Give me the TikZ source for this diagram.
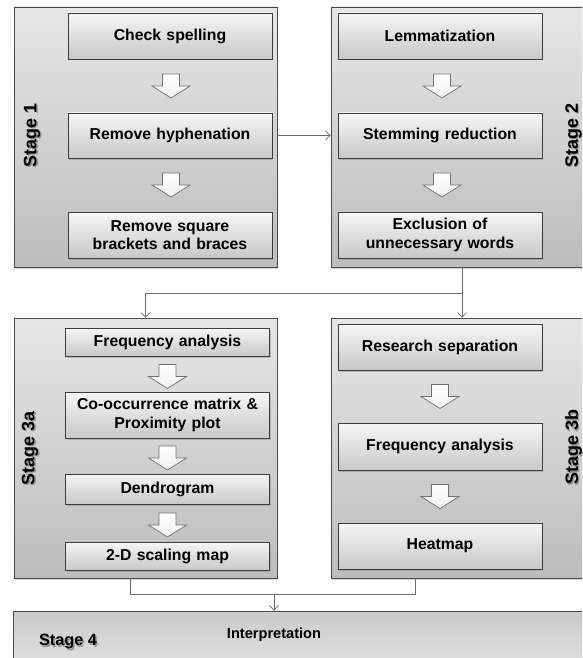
\documentclass[tikz,border=0pt]{standalone}
\usepackage{fontspec}
\setmainfont{Liberation Sans}
\usetikzlibrary{shadows,arrows.meta,calc}

\definecolor{frameedge}{HTML}{4A4A4A}
\definecolor{stagetop}{HTML}{E6E6E6}
\definecolor{stagebot}{HTML}{BDBDBD}
\definecolor{steptop}{HTML}{F6F6F6}
\definecolor{stepbot}{HTML}{C8C8C8}
\definecolor{stepedge}{HTML}{3C3C3C}
\definecolor{linkgray}{HTML}{6A6A6A}
\definecolor{arrowedge}{HTML}{707070}

\tikzset{
  stagebox/.style={draw=frameedge, line width=0.7pt,
    top color=stagetop, bottom color=stagebot, inner sep=0pt,
    drop shadow={shadow xshift=1pt, shadow yshift=-1.5pt, opacity=0.3}},
  stepbox/.style={draw=stepedge, line width=0.6pt,
    top color=steptop, bottom color=stepbot, inner sep=0pt,
    minimum width=204pt, text width=200pt, align=center,
    font=\bfseries\fontsize{15.8}{18.5}\selectfont,
    drop shadow={shadow xshift=1.2pt, shadow yshift=-1.5pt, opacity=0.4}},
  stagelabel/.style={font=\bfseries\fontsize{18}{20}\selectfont, inner sep=0pt},
  labelshade/.style={stagelabel, text=black, opacity=0.3},
  link/.style={draw=linkgray, line width=0.8pt,
    -{Straight Barb[length=4.5pt,width=9pt,line width=0.8pt]}},
  plainlink/.style={draw=linkgray, line width=0.8pt},
  flowarrow/.pic={
    \draw[draw=arrowedge, line width=0.7pt, top color=white, bottom color=gray!12]
      (-8.5,-12) -- (8.5,-12) -- (8.5,0) -- (19,0) -- (0,12) -- (-19,0)
      -- (-8.5,0) -- cycle;
  }
}

\begin{document}
\begin{tikzpicture}[x=1pt,y=-1pt]
\useasboundingbox (0,0) rectangle (582,658);
\clip (0,0) rectangle (582,658);

% stage frames
\node[stagebox, minimum width=263pt, minimum height=260pt] (s1) at (145.5,137) {};
\node[stagebox, minimum width=279pt, minimum height=260pt] (s2) at (470.5,137) {};
\node[stagebox, minimum width=263pt, minimum height=260pt] (s3a) at (145.5,448) {};
\node[stagebox, minimum width=279pt, minimum height=260pt] (s3b) at (470.5,448) {};
\node[stagebox, minimum width=597pt, minimum height=89pt,
      top color=stagebot!70!stagetop, bottom color=stagetop!60!white] (s4) at (311.5,655.5) {};

% stage labels (with soft text shadow)
\node[labelshade, rotate=90] at (33.5,136.5) {Stage 1};
\node[stagelabel, rotate=90] (lab1) at (32,135) {Stage 1};
\node[labelshade, rotate=90] at (574.5,136.5) {Stage 2};
\node[stagelabel, rotate=90] (lab2) at (573.5,135) {Stage 2};
\node[labelshade, rotate=90] at (31.5,449.5) {Stage 3a};
\node[stagelabel, rotate=90] (lab3a) at (30,448) {Stage 3a};
\node[labelshade, rotate=90] at (574.5,448.5) {Stage 3b};
\node[stagelabel, rotate=90] (lab3b) at (573.5,447) {Stage 3b};
\node[labelshade, font=\bfseries\fontsize{16.3}{18}\selectfont] at (69.5,643.5) {Stage 4};
\node[stagelabel, font=\bfseries\fontsize{16.3}{18}\selectfont] (lab4) at (68,642) {Stage 4};
\node[font=\bfseries\fontsize{14.6}{17}\selectfont, inner sep=0pt] (interp) at (274,635) {Interpretation};

% stage 1 steps
\node[stepbox, minimum height=46pt] (cs) at (170,36) {Check spelling};
\node[stepbox, minimum height=45pt] (rh) at (170,135.5) {Remove hyphenation};
\node[stepbox, minimum height=46pt] (rb) at (170,235) {Remove square\\brackets and braces};

% stage 2 steps
\node[stepbox, minimum height=46pt] (lm) at (440,36) {Lemmatization};
\node[stepbox, minimum height=45pt] (sr) at (440,135.5) {Stemming reduction};
\node[stepbox, minimum height=46pt] (ex) at (440,235) {Exclusion of\\unnecessary words};

% stage 3a steps
\node[stepbox, minimum height=28pt] (fa) at (167.5,342) {Frequency analysis};
\node[stepbox, minimum height=46pt] (cm) at (167.5,415) {Co-occurrence matrix \&\\Proximity plot};
\node[stepbox, minimum height=30pt] (dg) at (167.5,489) {Dendrogram};
\node[stepbox, minimum height=28pt] (sm) at (167.5,556) {2-D scaling map};

% stage 3b steps
\node[stepbox, minimum height=46pt] (rs) at (440,347) {Research separation};
\node[stepbox, minimum height=47pt] (fb) at (440,446.5) {Frequency analysis};
\node[stepbox, minimum height=46pt] (hm) at (440,546) {Heatmap};

% block arrows between steps
\pic at ($(cs.south)!0.5!(rh.north)+(1,0)$) {flowarrow};
\pic at ($(rh.south)!0.5!(rb.north)+(1,0)$) {flowarrow};
\pic at ($(lm.south)!0.5!(sr.north)+(2,0)$) {flowarrow};
\pic at ($(sr.south)!0.5!(ex.north)+(2,0)$) {flowarrow};
\pic at ($(fa.south)!0.5!(cm.north)+(0,2.5)$) {flowarrow};
\pic at ($(cm.south)!0.5!(dg.north)+(0,2)$) {flowarrow};
\pic at ($(dg.south)!0.5!(sm.north)+(0,2)$) {flowarrow};
\pic at ($(rs.south)!0.5!(fb.north)$) {flowarrow};
\pic at ($(fb.south)!0.5!(hm.north)$) {flowarrow};

% connectors between stages
\draw[link] (rh.east -| s1.east) -- (rh.east -| s2.west);

\coordinate (split) at (462,293);
\draw[plainlink] (split |- s2.south) -- (split);
\draw[link] (split) -- (split |- s3b.north);
\draw[link] (split) -| (s3a.north);

\coordinate (tapA) at (130,594);
\coordinate (tapB) at (415,594);
\coordinate (join) at (274,594);
\draw[plainlink] (tapA |- s3a.south) -- (tapA) -- (tapB) -- (tapB |- s3b.south);
\draw[link] (join) -- (join |- s4.north);
\end{tikzpicture}
\end{document}
